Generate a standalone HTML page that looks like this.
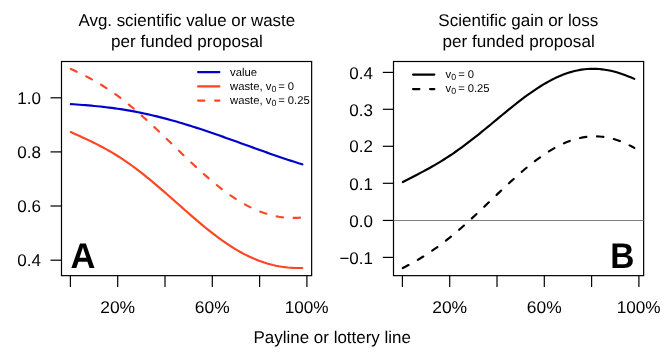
<!DOCTYPE html>
<html><head><meta charset="utf-8"><title>Chart</title>
<style>html,body{margin:0;padding:0;background:#fff;}body{width:664px;height:358px;overflow:hidden;font-family:"Liberation Sans",sans-serif;}svg{display:block;}</style>
</head><body>
<svg width="664" height="358" viewBox="0 0 664 358" font-family="'Liberation Sans', sans-serif" fill="#000" style="will-change:transform;text-rendering:geometricPrecision">
<rect width="664" height="358" fill="#fff"/>
<rect x="61.5" y="61.5" width="250.15" height="214.15" fill="none" stroke="#000" stroke-width="1.2"/>
<line x1="70.40" y1="275.65" x2="70.40" y2="286.9" stroke="#000" stroke-width="1.2"/>
<line x1="117.70" y1="275.65" x2="117.70" y2="286.9" stroke="#000" stroke-width="1.2"/>
<line x1="165.00" y1="275.65" x2="165.00" y2="286.9" stroke="#000" stroke-width="1.2"/>
<line x1="212.30" y1="275.65" x2="212.30" y2="286.9" stroke="#000" stroke-width="1.2"/>
<line x1="259.60" y1="275.65" x2="259.60" y2="286.9" stroke="#000" stroke-width="1.2"/>
<line x1="306.90" y1="275.65" x2="306.90" y2="286.9" stroke="#000" stroke-width="1.2"/>
<text x="100.17" y="313" font-size="17.0" textLength="35.00" lengthAdjust="spacingAndGlyphs">20%</text>
<text x="194.87" y="313" font-size="17.0" textLength="34.80" lengthAdjust="spacingAndGlyphs">60%</text>
<text x="284.69" y="313" font-size="17.0" textLength="43.92" lengthAdjust="spacingAndGlyphs">100%</text>
<line x1="50.5" y1="97.8" x2="61.5" y2="97.8" stroke="#000" stroke-width="1.2"/>
<text x="41" y="104" text-anchor="end" font-size="17.0">1.0</text>
<line x1="50.5" y1="151.9" x2="61.5" y2="151.9" stroke="#000" stroke-width="1.2"/>
<text x="41" y="158" text-anchor="end" font-size="17.0">0.8</text>
<line x1="50.5" y1="206.0" x2="61.5" y2="206.0" stroke="#000" stroke-width="1.2"/>
<text x="41" y="212" text-anchor="end" font-size="17.0">0.6</text>
<line x1="50.5" y1="260.2" x2="61.5" y2="260.2" stroke="#000" stroke-width="1.2"/>
<text x="41" y="266" text-anchor="end" font-size="17.0">0.4</text>
<text x="78.47" y="26" font-size="17.0" textLength="216.68" lengthAdjust="spacingAndGlyphs">Avg. scientific value or waste</text>
<text x="111.00" y="47" font-size="17.0" textLength="151.84" lengthAdjust="spacingAndGlyphs">per funded proposal</text>
<path d="M70.85,104.07 L73.78,104.28 L76.71,104.50 L79.64,104.72 L82.57,104.95 L85.50,105.19 L88.43,105.44 L91.36,105.69 L94.29,105.97 L97.22,106.25 L100.15,106.55 L103.08,106.87 L106.01,107.20 L108.94,107.56 L111.87,107.93 L114.80,108.33 L117.73,108.74 L120.66,109.18 L123.59,109.63 L126.52,110.11 L129.44,110.61 L132.37,111.14 L135.30,111.68 L138.23,112.25 L141.16,112.84 L144.09,113.45 L147.02,114.09 L149.95,114.75 L152.88,115.43 L155.81,116.12 L158.74,116.85 L161.67,117.59 L164.60,118.35 L167.53,119.13 L170.46,119.93 L173.39,120.75 L176.32,121.58 L179.25,122.44 L182.18,123.31 L185.11,124.19 L188.04,125.10 L190.97,126.01 L193.90,126.94 L196.83,127.89 L199.76,128.85 L202.69,129.82 L205.62,130.80 L208.55,131.79 L211.48,132.79 L214.41,133.80 L217.34,134.81 L220.27,135.84 L223.20,136.87 L226.13,137.91 L229.06,138.95 L231.99,140.00 L234.92,141.05 L237.85,142.10 L240.78,143.16 L243.71,144.22 L246.63,145.27 L249.56,146.33 L252.49,147.38 L255.42,148.44 L258.35,149.49 L261.28,150.54 L264.21,151.58 L267.14,152.62 L270.07,153.65 L273.00,154.67 L275.93,155.69 L278.86,156.69 L281.79,157.69 L284.72,158.68 L287.65,159.65 L290.58,160.62 L293.51,161.57 L296.44,162.50 L299.37,163.42 L302.30,164.33" fill="none" stroke="#0000cd" stroke-width="2.15" stroke-linecap="round" stroke-linejoin="round"/>
<path d="M70.85,132.05 L73.78,133.40 L76.71,134.74 L79.64,136.07 L82.57,137.40 L85.50,138.75 L88.43,140.12 L91.36,141.52 L94.29,142.94 L97.22,144.41 L100.15,145.92 L103.08,147.47 L106.01,149.07 L108.94,150.73 L111.87,152.44 L114.80,154.21 L117.73,156.03 L120.66,157.91 L123.59,159.85 L126.52,161.85 L129.44,163.90 L132.37,166.00 L135.30,168.16 L138.23,170.38 L141.16,172.64 L144.09,174.95 L147.02,177.30 L149.95,179.69 L152.88,182.12 L155.81,184.58 L158.74,187.08 L161.67,189.60 L164.60,192.15 L167.53,194.71 L170.46,197.28 L173.39,199.87 L176.32,202.46 L179.25,205.06 L182.18,207.65 L185.11,210.23 L188.04,212.80 L190.97,215.35 L193.90,217.89 L196.83,220.39 L199.76,222.87 L202.69,225.31 L205.62,227.72 L208.55,230.08 L211.48,232.39 L214.41,234.66 L217.34,236.87 L220.27,239.02 L223.20,241.12 L226.13,243.15 L229.06,245.11 L231.99,247.00 L234.92,248.82 L237.85,250.56 L240.78,252.23 L243.71,253.82 L246.63,255.33 L249.56,256.75 L252.49,258.09 L255.42,259.34 L258.35,260.51 L261.28,261.60 L264.21,262.59 L267.14,263.50 L270.07,264.32 L273.00,265.06 L275.93,265.71 L278.86,266.28 L281.79,266.76 L284.72,267.16 L287.65,267.49 L290.58,267.73 L293.51,267.91 L296.44,268.00 L299.37,268.03 L302.30,268.00" fill="none" stroke="#ff4522" stroke-width="2.15" stroke-linecap="round" stroke-linejoin="round"/>
<path d="M70.85,69.00 L73.78,70.33 L76.71,71.70 L79.64,73.09 L82.57,74.52 L85.50,76.00 L88.43,77.52 L91.36,79.09 L94.29,80.72 L97.22,82.41 L100.15,84.16 L103.08,85.97 L106.01,87.84 L108.94,89.78 L111.87,91.78 L114.80,93.84 L117.73,95.97 L120.66,98.16 L123.59,100.41 L126.52,102.72 L129.44,105.08 L132.37,107.50 L135.30,109.98 L138.23,112.50 L141.16,115.07 L144.09,117.69 L147.02,120.34 L149.95,123.04 L152.88,125.76 L155.81,128.51 L158.74,131.29 L161.67,134.09 L164.60,136.90 L167.53,139.73 L170.46,142.57 L173.39,145.41 L176.32,148.25 L179.25,151.08 L182.18,153.91 L185.11,156.72 L188.04,159.51 L190.97,162.28 L193.90,165.02 L196.83,167.73 L199.76,170.41 L202.69,173.04 L205.62,175.64 L208.55,178.18 L211.48,180.67 L214.41,183.11 L217.34,185.49 L220.27,187.81 L223.20,190.06 L226.13,192.24 L229.06,194.35 L231.99,196.39 L234.92,198.34 L237.85,200.22 L240.78,202.01 L243.71,203.72 L246.63,205.34 L249.56,206.86 L252.49,208.30 L255.42,209.64 L258.35,210.89 L261.28,212.03 L264.21,213.08 L267.14,214.03 L270.07,214.88 L273.00,215.63 L275.93,216.27 L278.86,216.81 L281.79,217.24 L284.72,217.58 L287.65,217.80 L290.58,217.92 L293.51,217.94 L296.44,217.85 L299.37,217.65 L302.30,217.35" fill="none" stroke="#ff4522" stroke-width="2.15" stroke-dasharray="6.4 10.65" stroke-linecap="round" stroke-linejoin="round"/>
<text x="70.44" y="268" font-size="35.8" textLength="24.87" lengthAdjust="spacingAndGlyphs" font-weight="bold">A</text>
<line x1="198.05" y1="72.1" x2="219.4" y2="72.1" stroke="#0000cd" stroke-width="2.15" stroke-linecap="round"/>
<line x1="198.05" y1="86.4" x2="219.4" y2="86.4" stroke="#ff4522" stroke-width="2.15" stroke-linecap="round"/>
<line x1="198.05" y1="100.55" x2="219.4" y2="100.55" stroke="#ff4522" stroke-width="2.15" stroke-linecap="round" stroke-dasharray="6.4 10.65"/>
<text x="230.1" y="76" font-size="11.25">value</text>
<text x="230.1" y="90" font-size="11.25">waste, v<tspan font-size="8.8" dy="1.9" dx="0.1">0</tspan><tspan dy="-1.9" dx="-1.2"> =</tspan><tspan dx="-0.2"> 0</tspan></text>
<text x="230.1" y="104" font-size="11.25">waste, v<tspan font-size="8.8" dy="1.9" dx="0.1">0</tspan><tspan dy="-1.9" dx="-1.2"> =</tspan><tspan dx="-0.2"> 0.25</tspan></text>
<rect x="393.5" y="61.5" width="250.15" height="214.15" fill="none" stroke="#000" stroke-width="1.2"/>
<line x1="402.40" y1="275.65" x2="402.40" y2="286.9" stroke="#000" stroke-width="1.2"/>
<line x1="449.70" y1="275.65" x2="449.70" y2="286.9" stroke="#000" stroke-width="1.2"/>
<line x1="497.00" y1="275.65" x2="497.00" y2="286.9" stroke="#000" stroke-width="1.2"/>
<line x1="544.30" y1="275.65" x2="544.30" y2="286.9" stroke="#000" stroke-width="1.2"/>
<line x1="591.60" y1="275.65" x2="591.60" y2="286.9" stroke="#000" stroke-width="1.2"/>
<line x1="638.90" y1="275.65" x2="638.90" y2="286.9" stroke="#000" stroke-width="1.2"/>
<text x="432.17" y="313" font-size="17.0" textLength="35.00" lengthAdjust="spacingAndGlyphs">20%</text>
<text x="526.87" y="313" font-size="17.0" textLength="34.80" lengthAdjust="spacingAndGlyphs">60%</text>
<text x="616.69" y="313" font-size="17.0" textLength="43.92" lengthAdjust="spacingAndGlyphs">100%</text>
<line x1="393.5" y1="220.45" x2="643.6" y2="220.45" stroke="#7f7f7f" stroke-width="1.1"/>
<line x1="382.8" y1="72.4" x2="393.5" y2="72.4" stroke="#000" stroke-width="1.2"/>
<text x="373" y="79" text-anchor="end" font-size="17.0">0.4</text>
<line x1="382.8" y1="109.3" x2="393.5" y2="109.3" stroke="#000" stroke-width="1.2"/>
<text x="373" y="116" text-anchor="end" font-size="17.0">0.3</text>
<line x1="382.8" y1="146.3" x2="393.5" y2="146.3" stroke="#000" stroke-width="1.2"/>
<text x="373" y="152" text-anchor="end" font-size="17.0">0.2</text>
<line x1="382.8" y1="183.3" x2="393.5" y2="183.3" stroke="#000" stroke-width="1.2"/>
<text x="373" y="190" text-anchor="end" font-size="17.0">0.1</text>
<line x1="382.8" y1="220.45" x2="393.5" y2="220.45" stroke="#000" stroke-width="1.2"/>
<text x="373" y="227" text-anchor="end" font-size="17.0">0.0</text>
<line x1="382.8" y1="257.4" x2="393.5" y2="257.4" stroke="#000" stroke-width="1.2"/>
<text x="373" y="264" text-anchor="end" font-size="17.0">−0.1</text>
<text x="438.33" y="26" font-size="17.0" textLength="159.99" lengthAdjust="spacingAndGlyphs">Scientific gain or loss</text>
<text x="442.60" y="47" font-size="17.0" textLength="152.15" lengthAdjust="spacingAndGlyphs">per funded proposal</text>
<path d="M402.85,182.06 L405.78,180.51 L408.71,178.99 L411.64,177.48 L414.57,175.97 L417.50,174.45 L420.43,172.92 L423.36,171.37 L426.29,169.79 L429.22,168.19 L432.15,166.54 L435.08,164.85 L438.01,163.13 L440.94,161.35 L443.87,159.53 L446.80,157.66 L449.73,155.74 L452.66,153.77 L455.59,151.75 L458.52,149.68 L461.44,147.57 L464.37,145.41 L467.30,143.21 L470.23,140.97 L473.16,138.69 L476.09,136.38 L479.02,134.04 L481.95,131.67 L484.88,129.29 L487.81,126.88 L490.74,124.46 L493.67,122.03 L496.60,119.60 L499.53,117.18 L502.46,114.75 L505.39,112.34 L508.32,109.95 L511.25,107.58 L514.18,105.23 L517.11,102.92 L520.04,100.65 L522.97,98.42 L525.90,96.23 L528.83,94.11 L531.76,92.03 L534.69,90.03 L537.62,88.08 L540.55,86.22 L543.48,84.42 L546.41,82.71 L549.34,81.08 L552.27,79.55 L555.20,78.10 L558.13,76.75 L561.06,75.49 L563.99,74.34 L566.92,73.30 L569.85,72.35 L572.78,71.52 L575.71,70.80 L578.63,70.18 L581.56,69.68 L584.49,69.30 L587.42,69.02 L590.35,68.86 L593.28,68.81 L596.21,68.87 L599.14,69.05 L602.07,69.33 L605.00,69.72 L607.93,70.22 L610.86,70.82 L613.79,71.52 L616.72,72.32 L619.65,73.21 L622.58,74.19 L625.51,75.25 L628.44,76.39 L631.37,77.60 L634.30,78.88" fill="none" stroke="#000" stroke-width="2.15" stroke-linecap="round" stroke-linejoin="round"/>
<path d="M402.85,268.01 L405.78,266.48 L408.71,264.92 L411.64,263.32 L414.57,261.68 L417.50,259.99 L420.43,258.25 L423.36,256.46 L426.29,254.61 L429.22,252.70 L432.15,250.72 L435.08,248.69 L438.01,246.60 L440.94,244.44 L443.87,242.22 L446.80,239.95 L449.73,237.61 L452.66,235.22 L455.59,232.78 L458.52,230.28 L461.44,227.74 L464.37,225.15 L467.30,222.52 L470.23,219.86 L473.16,217.16 L476.09,214.43 L479.02,211.67 L481.95,208.90 L484.88,206.11 L487.81,203.31 L490.74,200.51 L493.67,197.70 L496.60,194.90 L499.53,192.11 L502.46,189.34 L505.39,186.58 L508.32,183.85 L511.25,181.15 L514.18,178.49 L517.11,175.87 L520.04,173.29 L522.97,170.77 L525.90,168.30 L528.83,165.89 L531.76,163.55 L534.69,161.27 L537.62,159.08 L540.55,156.96 L543.48,154.92 L546.41,152.98 L549.34,151.12 L552.27,149.36 L555.20,147.70 L558.13,146.14 L561.06,144.68 L563.99,143.34 L566.92,142.10 L569.85,140.98 L572.78,139.98 L575.71,139.09 L578.63,138.33 L581.56,137.68 L584.49,137.17 L587.42,136.77 L590.35,136.51 L593.28,136.37 L596.21,136.36 L599.14,136.48 L602.07,136.73 L605.00,137.11 L607.93,137.62 L610.86,138.25 L613.79,139.02 L616.72,139.92 L619.65,140.94 L622.58,142.09 L625.51,143.36 L628.44,144.76 L631.37,146.28 L634.30,147.92" fill="none" stroke="#000" stroke-width="2.15" stroke-dasharray="6.4 10.65" stroke-linecap="round" stroke-linejoin="round"/>
<text x="610.36" y="268" font-size="35.8" textLength="24.16" lengthAdjust="spacingAndGlyphs" font-weight="bold">B</text>
<line x1="413.0" y1="74.6" x2="434.35" y2="74.6" stroke="#000" stroke-width="2.15" stroke-linecap="round"/>
<line x1="413.0" y1="89.1" x2="434.35" y2="89.1" stroke="#000" stroke-width="2.15" stroke-linecap="round" stroke-dasharray="6.4 10.65"/>
<text x="445.6" y="78" font-size="11.25">v<tspan font-size="8.8" dy="1.9" dx="0.1">0</tspan><tspan dy="-1.9" dx="-1.2"> =</tspan><tspan dx="-0.2"> 0</tspan></text>
<text x="445.6" y="92" font-size="11.25">v<tspan font-size="8.8" dy="1.9" dx="0.1">0</tspan><tspan dy="-1.9" dx="-1.2"> =</tspan><tspan dx="-0.2"> 0.25</tspan></text>
<text x="253.51" y="343" font-size="17.0" textLength="157.45" lengthAdjust="spacingAndGlyphs">Payline or lottery line</text>
</svg>
</body></html>
